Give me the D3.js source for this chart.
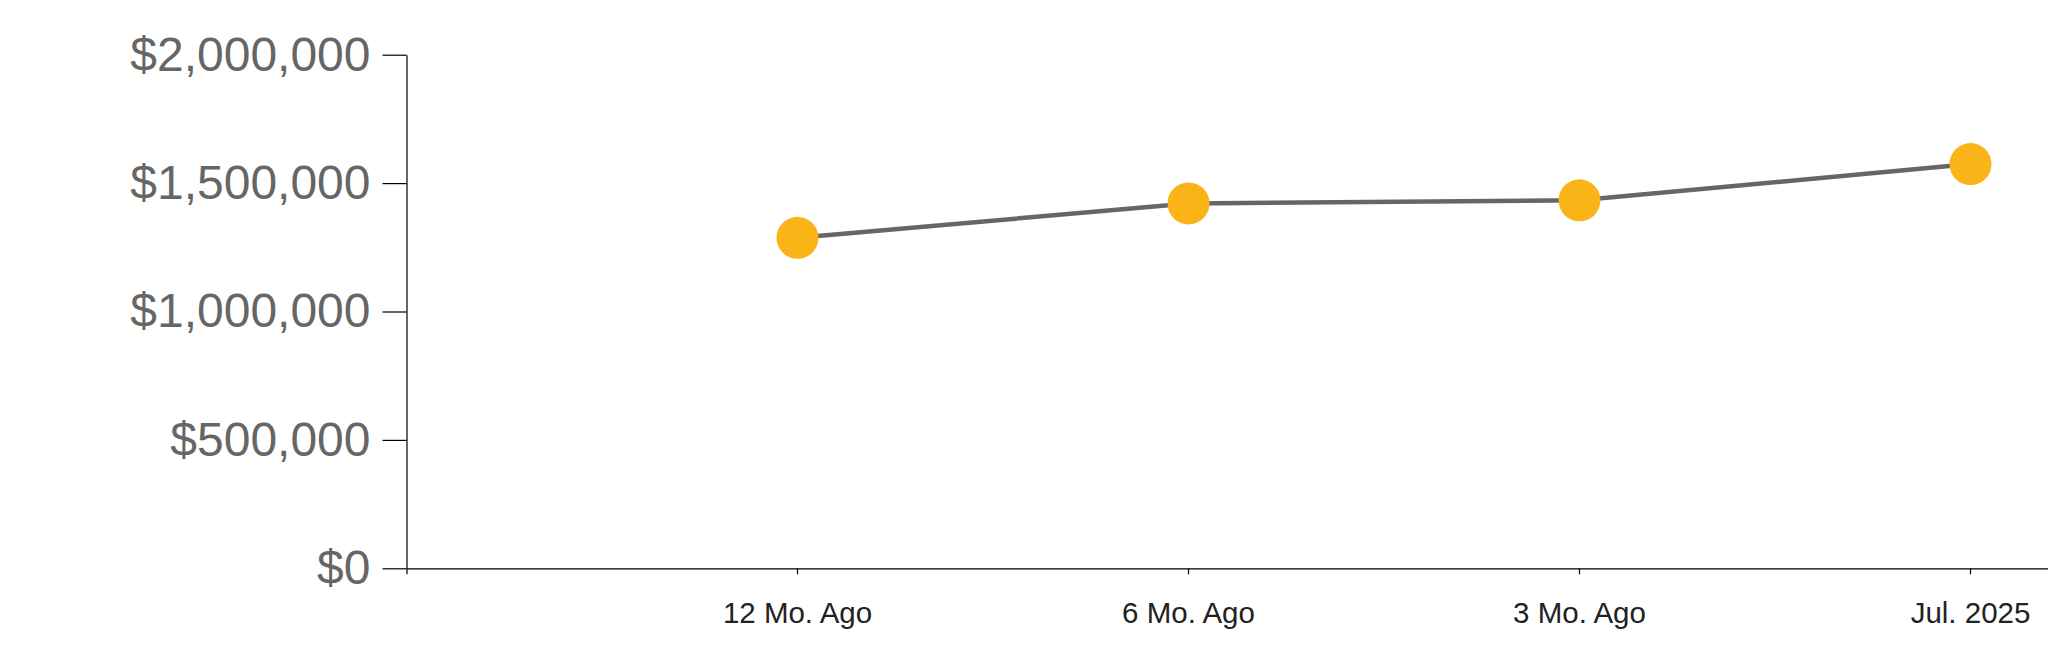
<!DOCTYPE html>
<html>
<head>
<meta charset="utf-8">
<script src="https://cdn.jsdelivr.net/npm/d3@7"></script>
<style>
  html, body { margin: 0; padding: 0; background: #fff; }
  svg { display: block; }
</style>
</head>
<body>
<svg id="chart" width="2048" height="663"></svg>
<script>
const categories = ["12 Mo. Ago", "6 Mo. Ago", "3 Mo. Ago", "Jul. 2025"];
const values = [1287000, 1421000, 1433000, 1574000];
const yTicks = [0, 500000, 1000000, 1500000, 2000000];

(function () {
const svg = d3.select("#chart");
const mLeft = 406.5, mTop = 54.7, mBottom = 568.3;
const step = 391;

const x = d3.scaleBand()
  .domain(categories)
  .range([mLeft, mLeft + step * 5])
  .paddingInner(0)
  .paddingOuter(0.5);

const y = d3.scaleLinear()
  .domain([0, 2000000])
  .range([mBottom, mTop]);

const fmt = v => "$" + d3.format(",")(v);

// x axis
const gx = svg.append("g")
  .attr("transform", `translate(0,${mBottom})`)
  .call(d3.axisBottom(x).tickSize(6).tickSizeOuter(6).tickPadding(28));
gx.selectAll("path, line").attr("stroke", "#000").attr("stroke-width", 1.2);
gx.selectAll("text")
  .attr("font-family", "'Liberation Sans', Arial, sans-serif")
  .attr("font-size", 29.5)
  .attr("fill", "#222");

// y axis
const gy = svg.append("g")
  .attr("transform", `translate(${mLeft},0)`)
  .call(d3.axisLeft(y).tickValues(yTicks).tickFormat(fmt).tickSize(24).tickSizeOuter(0).tickPadding(12));
gy.selectAll("path, line").attr("stroke", "#000").attr("stroke-width", 1.2);
gy.selectAll("text")
  .attr("font-family", "'Liberation Sans', Arial, sans-serif")
  .attr("font-size", 48)
  .attr("fill", "#666");

const cx = d => x(d) + x.bandwidth() / 2;
const data = categories.map((c, i) => ({ c, v: values[i] }));

const line = d3.line()
  .x(d => cx(d.c))
  .y(d => y(d.v));

svg.append("path")
  .datum(data)
  .attr("d", line)
  .attr("fill", "none")
  .attr("stroke", "#666")
  .attr("stroke-width", 4.5);

svg.selectAll("circle.pt")
  .data(data)
  .enter()
  .append("circle")
  .attr("class", "pt")
  .attr("cx", d => cx(d.c))
  .attr("cy", d => y(d.v))
  .attr("r", 21)
  .attr("fill", "#FBB417");
})();
</script>
</body>
</html>
